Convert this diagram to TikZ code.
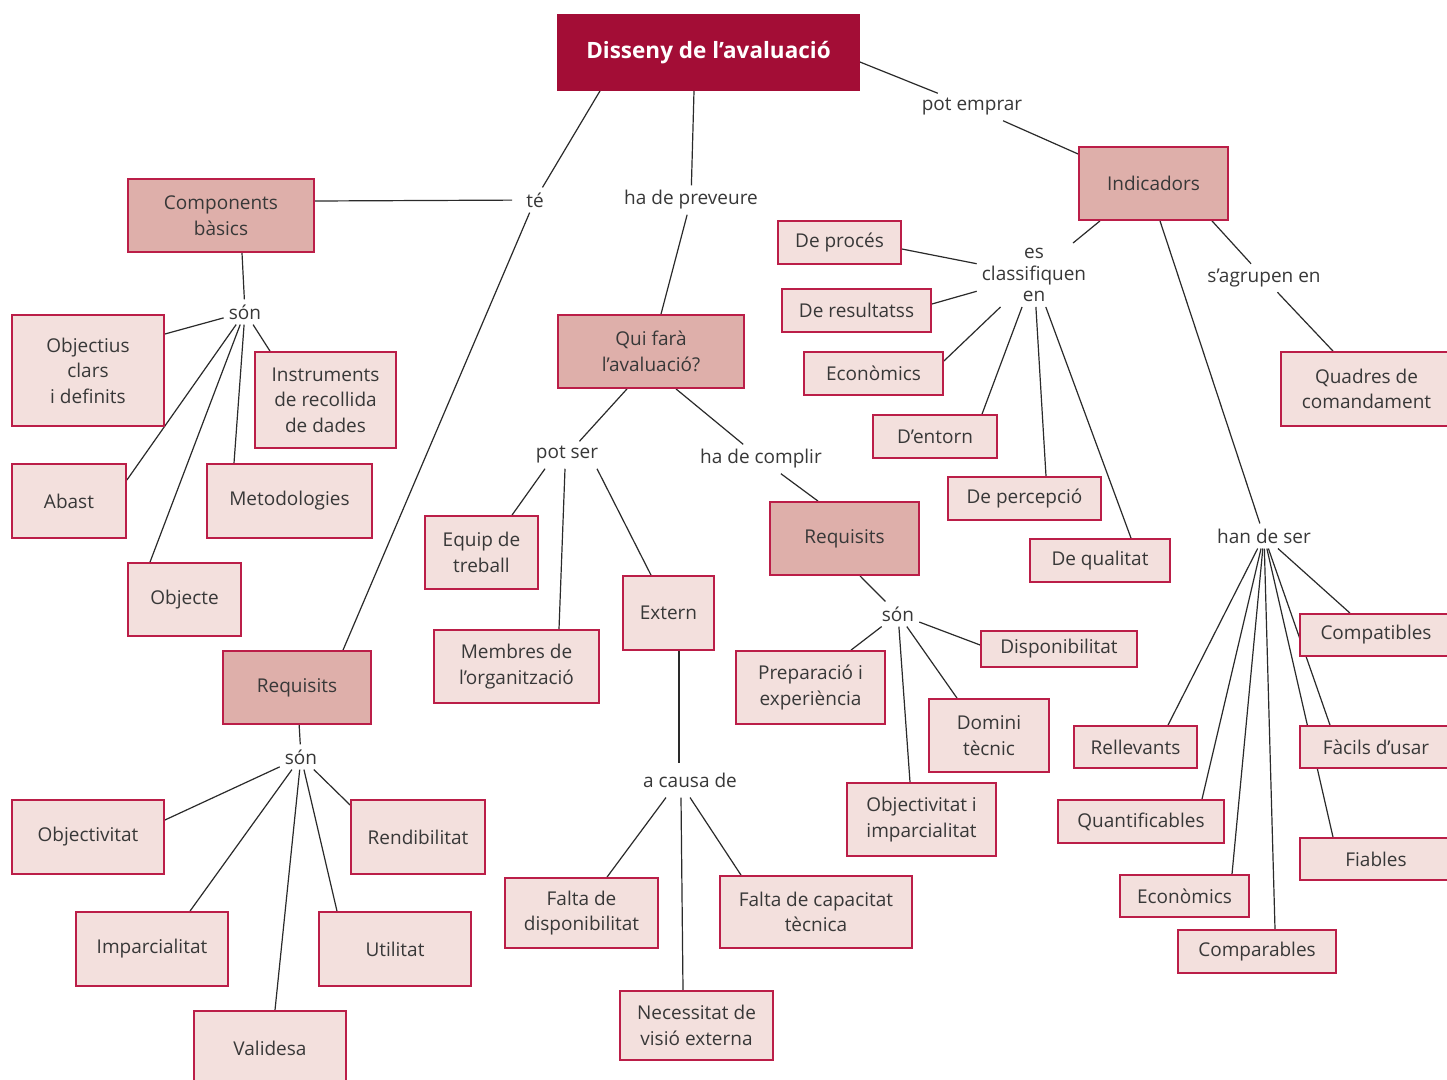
\documentclass[tikz,border=0pt]{standalone}
\usepackage{fontspec}
\setmainfont{Open Sans}
\pgfdeclarelayer{background}
\pgfsetlayers{background,main}
\definecolor{maincol}{HTML}{A30D36}
\definecolor{midcol}{HTML}{DEAFAA}
\definecolor{lightcol}{HTML}{F3E0DD}
\definecolor{bordcol}{HTML}{BB1E48}
\definecolor{txtcol}{HTML}{383838}
\definecolor{linecol}{HTML}{2A2A2A}
\begin{document}
\begin{tikzpicture}[x=1pt,y=-1pt,
 base/.style={draw=bordcol, line width=1.8pt, inner sep=0pt, align=center, text=txtcol, font=\fontsize{19}{25.5}\selectfont},
 lbox/.style={base, fill=lightcol},
 mbox/.style={base, fill=midcol},
 tbox/.style={base, fill=maincol, draw=maincol, text=white, font=\fontsize{22.5}{26}\selectfont\bfseries},
 lab/.style={inner sep=5pt, align=center, text=txtcol, font=\fontsize{19}{21.5}\selectfont},
 conn/.style={draw=linecol, line width=1.2pt}]
\useasboundingbox (0,0) rectangle (1447,1079);
\begin{pgfonlayer}{background}
\fill[white] (0,0) rectangle (1447,1079);
\end{pgfonlayer}

% top
\node[tbox, minimum width=301pt, minimum height=75pt] (dis) at (708.5,52.5) {Disseny de l’avaluació};

% main boxes
\node[mbox, minimum width=186pt, minimum height=73pt] (comp) at (221,215.5) {Components\\bàsics};
\node[mbox, minimum width=186pt, minimum height=73pt] (qui) at (651,351.5) {Qui farà\\l’avaluació?};
\node[mbox, minimum width=149pt, minimum height=73pt] (ind) at (1153.5,183.5) {Indicadors};
\node[mbox, minimum width=148pt, minimum height=73pt] (req1) at (297,687.5) {Requisits};
\node[mbox, minimum width=149pt, minimum height=73pt] (req2) at (844.5,538.5) {Requisits};

% components
\node[lbox, minimum width=152pt, minimum height=111pt] (objc) at (88,370.5) {Objectius\\clars\\i definits};
\node[lbox, minimum width=141pt, minimum height=96pt] (inst) at (325.5,400) {Instruments\\de recollida\\de dades};
\node[lbox, minimum width=114pt, minimum height=74pt] (abast) at (69,501) {Abast};
\node[lbox, minimum width=165pt, minimum height=74pt] (metod) at (289.5,501) {Metodologies};
\node[lbox, minimum width=113pt, minimum height=73pt] (objecte) at (184.5,599.5) {Objecte};

% qui fara
\node[lbox, minimum width=113pt, minimum height=73pt] (equip) at (481.5,552.5) {Equip de\\treball};
\node[lbox, minimum width=165pt, minimum height=73pt] (membres) at (516.5,666.5) {Membres de\\l’organització};
\node[lbox, minimum width=91pt, minimum height=74pt] (extern) at (668.5,613) {Extern};
\node[lbox, minimum width=153pt, minimum height=70pt] (fdisp) at (581.5,913) {Falta de\\disponibilitat};
\node[lbox, minimum width=192pt, minimum height=72pt] (fcap) at (816,912) {Falta de capacitat\\tècnica};
\node[lbox, minimum width=153pt, minimum height=69pt] (necess) at (696.5,1025.5) {Necessitat de\\visió externa};

% requisits mid
\node[lbox, minimum width=149pt, minimum height=73pt] (prep) at (810.5,687.5) {Preparació i\\experiència};
\node[lbox, minimum width=156pt, minimum height=36pt] (disp) at (1059,649) {Disponibilitat};
\node[lbox, minimum width=120pt, minimum height=73pt] (domini) at (989,735.5) {Domini\\tècnic};
\node[lbox, minimum width=149pt, minimum height=73pt] (objimp) at (921.5,819.5) {Objectivitat i\\imparcialitat};

% indicadors
\node[lbox, minimum width=123pt, minimum height=43pt] (proces) at (839.5,242.5) {De procés};
\node[lbox, minimum width=149pt, minimum height=43pt] (result) at (856.5,310.5) {De resultatss};
\node[lbox, minimum width=139pt, minimum height=43pt] (econa) at (873.5,373.5) {Econòmics};
\node[lbox, minimum width=124pt, minimum height=43pt] (entorn) at (935,436.5) {D’entorn};
\node[lbox, minimum width=153pt, minimum height=43pt] (percep) at (1024.5,498.5) {De percepció};
\node[lbox, minimum width=140pt, minimum height=43pt] (qualitat) at (1100,560.5) {De qualitat};
\node[lbox, minimum width=171pt, minimum height=74pt] (quadres) at (1366.5,389) {Quadres de\\comandament};
\node[lbox, minimum width=152pt, minimum height=42pt] (compat) at (1376,635) {Compatibles};
\node[lbox, minimum width=123pt, minimum height=42pt] (rellev) at (1135.5,747) {Rellevants};
\node[lbox, minimum width=152pt, minimum height=42pt] (facils) at (1376,747) {Fàcils d’usar};
\node[lbox, minimum width=166pt, minimum height=43pt] (quant) at (1141,821.5) {Quantificables};
\node[lbox, minimum width=152pt, minimum height=42pt] (fiables) at (1376,859) {Fiables};
\node[lbox, minimum width=129pt, minimum height=42pt] (econb) at (1184.5,896) {Econòmics};
\node[lbox, minimum width=158pt, minimum height=43pt] (compar) at (1257,951.5) {Comparables};

% requisits left
\node[lbox, minimum width=152pt, minimum height=74pt] (objv) at (88,837) {Objectivitat};
\node[lbox, minimum width=134pt, minimum height=74pt] (rendib) at (418,837) {Rendibilitat};
\node[lbox, minimum width=152pt, minimum height=74pt] (impar) at (152,949) {Imparcialitat};
\node[lbox, minimum width=152pt, minimum height=74pt] (util) at (395,949) {Utilitat};
\node[lbox, minimum width=152pt, minimum height=74pt] (valid) at (270,1048) {Validesa};

% labels
\node[lab, inner xsep=14pt] (te) at (535,200) {té};
\node[lab] (prev) at (691,200) {ha de preveure};
\node[lab] (emprar) at (972,107) {pot emprar};
\node[lab] (sona) at (245,312) {són};
\node[lab] (classif) at (1034,275) {es\\classifiquen\\en};
\node[lab] (agrupen) at (1264,278) {s’agrupen en};
\node[lab] (potser) at (567,455) {pot ser};
\node[lab] (complir) at (761,459) {ha de complir};
\node[lab] (sonb) at (898,614) {són};
\node[lab] (hande) at (1264,536) {han de ser};
\node[lab] (sonc) at (301,757) {són};
\node[lab, inner ysep=10pt] (causa) at (690,780) {a causa de};

\begin{pgfonlayer}{background}
\draw[conn] (dis.south -| 600,0) -- (te);
\draw[conn] (te) -- (comp.east |- 0,201);
\draw[conn] (te) -- (req1.north -| 343,0);
\draw[conn] (dis.south -| 694,0) -- (prev);
\draw[conn] (prev) -- (qui.north -| 661,0);
\draw[conn] (dis.east |- 0,62) -- (emprar);
\draw[conn] (emprar) -- (ind.west |- 0,154);
\draw[conn] (comp.south -| 242,0) -- (sona);
\draw[conn] (sona) -- (objc.east |- 0,334);
\draw[conn] (sona) -- (inst.north -| 270,0);
\draw[conn] (sona) -- (abast.east |- 0,480);
\draw[conn] (sona) -- (objecte.north -| 150,0);
\draw[conn] (sona) -- (metod.north -| 234,0);
\draw[conn] (qui.south -| 627,0) -- (potser);
\draw[conn] (qui.south -| 676,0) -- (complir);
\draw[conn] (potser.south -| 545,0) -- (equip.north -| 512,0);
\draw[conn] (potser.south -| 565,0) -- (membres.north -| 559,0);
\draw[conn] (potser.south -| 597,0) -- (extern.north -| 651,0);
\draw[conn] (complir) -- (req2.north -| 818,0);
\draw[conn] (extern.south -| 679,0) -- (causa.north -| 679,0);
\draw[conn] (causa.south -| 666,0) -- (fdisp.north -| 607,0);
\draw[conn] (causa.south -| 681,0) -- (necess.north -| 683,0);
\draw[conn] (causa.south -| 690,0) -- (fcap.north -| 741,0);
\draw[conn] (req2.south -| 860,0) -- (sonb);
\draw[conn] (sonb) -- (prep.north -| 851,0);
\draw[conn] (sonb) -- (disp.west |- 0,645);
\draw[conn] (sonb) -- (domini.north -| 957,0);
\draw[conn] (sonb) -- (objimp.north -| 910,0);
\draw[conn] (ind.south -| 1100,0) -- (classif);
\draw[conn] (classif) -- (proces.east |- 0,249);
\draw[conn] (classif) -- (result.east |- 0,304);
\draw[conn] (classif) -- (econa.east |- 0,361);
\draw[conn] (classif) -- (entorn.north -| 982,0);
\draw[conn] (classif) -- (percep.north -| 1046,0);
\draw[conn] (classif) -- (qualitat.north -| 1131,0);
\draw[conn] (ind.south -| 1212,0) -- (agrupen);
\draw[conn] (agrupen) -- (quadres.north -| 1333,0);
\draw[conn] (ind.south -| 1160,0) -- (hande);
\draw[conn] (hande) -- (compat.north -| 1350,0);
\draw[conn] (hande) -- (rellev.north -| 1168,0);
\draw[conn] (hande) -- (quant.north -| 1202,0);
\draw[conn] (hande) -- (econb.north -| 1232,0);
\draw[conn] (hande) -- (compar.north -| 1275,0);
\draw[conn] (hande) -- (facils.north -| 1330,0);
\draw[conn] (hande) -- (fiables.north -| 1333,0);
\draw[conn] (req1) -- (sonc);
\draw[conn] (sonc) -- (objv.east |- 0,820);
\draw[conn] (sonc) -- (rendib.west |- 0,805);
\draw[conn] (sonc) -- (impar.north -| 190,0);
\draw[conn] (sonc) -- (valid.north -| 275,0);
\draw[conn] (sonc) -- (util.north -| 337,0);
\end{pgfonlayer}
\end{tikzpicture}
\end{document}
